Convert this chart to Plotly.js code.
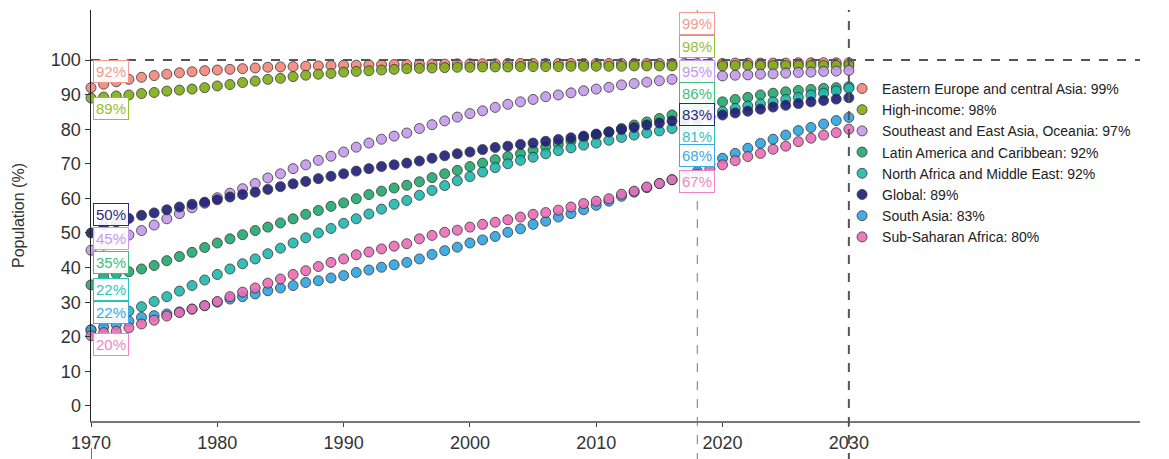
<!DOCTYPE html>
<html>
<head>
<meta charset="utf-8">
<script src="https://cdn.plot.ly/plotly-3.0.1.min.js"></script>
<style>html,body{margin:0;padding:0;background:#fff;}#chart{width:1169px;height:459px;}</style>
</head>
<body>
<div id="chart"></div>
<script>
// Years 1970..2030
const years = [];
for (let y = 1970; y <= 2030; y++) years.push(y);

const seriesNames = [
  "Eastern Europe and central Asia",
  "High-income",
  "Southeast and East Asia, Oceania",
  "Latin America and Caribbean",
  "North Africa and Middle East",
  "Global",
  "South Asia",
  "Sub-Saharan Africa"
];

const eeca = [92,93,93.7,94.4,95.0,95.5,95.9,96.3,96.6,96.9,97.1,97.3,97.5,97.7,97.9,98.0,98.1,98.2,98.3,98.4,98.5,98.5,98.6,98.6,98.7,98.7,98.8,98.8,98.8,98.9,98.9,98.9,98.9,99.0,99.0,99.0,99.0,99.0,99.0,99.0,99.0,99.0,99.0,99.0,99.0,99.0,99.0,99.0,99.0,99.0,99.0,99.1,99.1,99.1,99.1,99.1,99.2,99.2,99.2,99.2,99.2];
const highIncome = [89,89.3,89.6,89.9,90.3,90.6,91.0,91.3,91.6,92.0,92.5,92.9,93.5,93.9,94.4,94.7,95.2,95.6,95.9,96.1,96.5,96.7,96.9,97.1,97.3,97.5,97.6,97.7,97.8,97.9,97.9,98.0,98.0,98.0,98.1,98.1,98.1,98.1,98.2,98.2,98.2,98.2,98.2,98.3,98.3,98.3,98.3,98.3,98.3,98.3,98.3,98.4,98.4,98.4,98.4,98.4,98.4,98.4,98.4,98.4,98.4];
const seAsia = [45,46.5,48,49.4,50.7,52.3,54.1,55.6,57.3,58.6,60.2,61.5,62.8,64.3,65.9,67.1,68.6,69.7,71.0,72.2,73.4,74.8,76.0,77.1,78.0,78.9,80.2,81.3,82.4,83.5,84.5,85.3,86.3,87.2,87.9,88.6,89.4,89.9,90.5,91.1,91.6,92.1,92.8,93.2,93.6,94.0,94.4,94.7,95.0,95.2,95.4,95.6,95.7,95.9,96.0,96.2,96.4,96.5,96.7,96.8,97.0];
const latAm = [35,37.4,38.2,38.8,39.6,40.6,42.0,43.2,44.4,45.8,47.1,48.3,49.5,50.7,51.7,52.9,54.1,55.4,56.5,57.7,58.7,59.9,61.1,62.1,63.0,63.8,64.8,66.0,67.1,68.1,69.2,70.2,71.2,72.1,72.9,73.9,74.9,75.7,76.6,77.6,78.3,79.2,80.2,81.2,82.1,83.1,84.1,85.0,85.9,87.2,87.9,88.6,89.2,89.9,90.4,90.8,91.2,91.5,91.8,92.0,92.3];
const naMe = [22,24.6,26.0,27.4,28.7,30.2,31.6,33.2,34.8,36.4,38.0,39.6,41.1,42.5,44.0,45.6,47.1,48.6,50.0,51.3,52.8,54.1,55.5,56.9,58.3,59.4,60.9,62.3,63.7,65.1,66.3,67.6,68.9,70.0,71.0,71.9,72.9,73.8,74.6,75.4,76.0,76.8,77.6,78.3,78.9,79.5,80.2,80.6,81.0,83.5,85.1,86.0,86.7,87.3,87.9,88.6,89.2,89.9,90.4,91.1,91.8];
const globalCov = [50,52.3,53.2,54.2,55.1,55.8,56.7,57.5,58.3,58.9,59.6,60.4,61.1,61.8,62.6,63.4,64.2,64.9,65.7,66.4,67.1,67.9,68.6,69.2,69.7,70.2,70.8,71.6,72.3,72.9,73.4,74.1,74.7,75.1,75.6,76.0,76.5,77.0,77.5,78.0,78.6,79.2,79.9,80.5,81.2,81.8,82.4,82.8,83.2,83.6,84.1,84.7,85.2,85.8,86.4,86.9,87.4,87.9,88.3,88.7,89.1];
const southAsia = [22,22.8,23.5,24.5,25.6,26.1,26.6,27.2,28.0,29.0,30.0,30.9,31.6,32.4,33.3,34.1,34.8,35.7,36.2,37.0,37.7,38.6,39.3,40.1,40.8,41.5,42.5,43.8,44.9,45.9,47.1,48.0,49.0,50.2,51.2,52.5,53.4,54.6,55.6,56.7,58.0,59.2,60.6,61.8,63.1,64.3,65.4,66.6,67.8,70.0,71.6,73.0,74.5,75.9,77.1,78.3,79.6,80.5,81.5,82.5,83.4];
const ssAfrica = [20.3,21.2,21.6,22.6,23.7,24.8,26.0,27.0,28.0,29.0,30.2,31.6,32.9,34.1,35.5,36.7,38.0,39.1,40.3,41.5,42.5,43.7,44.5,45.4,46.2,46.9,48.3,49.3,50.2,50.8,51.7,52.5,53.1,53.8,54.6,55.4,55.9,56.6,57.5,58.5,59.2,59.9,61.2,62.1,63.3,64.3,65.4,66.2,67.0,68.5,69.7,70.9,72.1,73.0,74.2,75.1,76.4,77.4,78.3,79.0,80.0];

const seriesValues = [eeca, highIncome, seAsia, latAm, naMe, globalCov, southAsia, ssAfrica];

const xTicks = [1970, 1980, 1990, 2000, 2010, 2020, 2030];
const yTicks = [0, 10, 20, 30, 40, 50, 60, 70, 80, 90, 100];
const labelYears = [1970, 2018];
const projectionEnd = 2030;

// ---- styling (not data) ----
const markerColors = ["#F3877C","#80AE17","#C59AEC","#22A86E","#1FB8AE","#1E1E7A","#2FA4E0","#EA6DB8"];
const labelColors  = ["#F29A92","#95C034","#C39AF0","#3DBE7E","#2EC4BE","#2B2B86","#3AABE6","#EE86C6"];
const offset1970 = [4.6, -3, 3.5, 6.4, 11.8, 5.3, 5, -2.5];
const offset2018 = [11.6, 5.5, 1.7, 4.3, -3.2, 1.1, 4.6, -2.2];

const FONT = "Liberation Sans, Arial, Helvetica, sans-serif";

const traces = seriesNames.map((name, i) => {
  const v = seriesValues[i];
  return {
    type: "scatter",
    mode: "markers",
    x: years,
    y: v,
    name: name + ": " + Math.round(v[years.indexOf(projectionEnd)]) + "%",
    cliponaxis: false,
    marker: {
      size: 10,
      color: markerColors[i],
      opacity: 0.9,
      line: {color: "rgba(45,45,45,0.85)", width: 1}
    },
    hoverinfo: "x+y+name"
  };
});

const annotations = [];
seriesNames.forEach((name, i) => {
  const v = seriesValues[i];
  const offs = [offset1970, offset2018];
  labelYears.forEach((yr, j) => {
    const val = v[years.indexOf(yr)];
    annotations.push({
      x: yr, y: val + offs[j][i],
      xref: "x", yref: "y",
      text: Math.round(val) + "%",
      showarrow: false,
      xanchor: j === 0 ? "left" : "center",
      xshift: j === 0 ? 2 : 0,
      font: {family: FONT, size: 15, color: labelColors[i]},
      bgcolor: "rgba(255,255,255,0.92)",
      bordercolor: labelColors[i],
      borderwidth: 1,
      borderpad: 2
    });
  });
});

const shapes = [
  {type: "line", xref: "paper", yref: "y", x0: 0, x1: 1, y0: 100, y1: 100,
   line: {color: "#555", width: 1.8, dash: "dash"}},
  {type: "line", xref: "x", yref: "paper", x0: 2018, x1: 2018, y0: -0.1, y1: 1.0,
   line: {color: "#777", width: 1, dash: "dash"}},
  {type: "line", xref: "x", yref: "paper", x0: projectionEnd, x1: projectionEnd, y0: -0.1, y1: 1.0,
   line: {color: "#555", width: 2, dash: "dash"}},
  {type: "line", xref: "x", yref: "paper", x0: 1970, x1: 1970, y0: -0.1, y1: -0.065,
   line: {color: "#444", width: 1.5}}
];

const layout = {
  width: 1169, height: 459,
  margin: {l: 91, r: 29, t: 10, b: 38, pad: 0},
  paper_bgcolor: "#fff", plot_bgcolor: "#fff",
  font: {family: FONT, color: "#333"},
  showlegend: true,
  legend: {
    x: 0.716, xanchor: "left", y: 0.847, yanchor: "top",
    bgcolor: "rgba(0,0,0,0)", borderwidth: 0,
    font: {family: FONT, size: 14, color: "#222"},
    tracegroupgap: 0
  },
  xaxis: {
    range: [1970, 2053.05],
    tickvals: xTicks, ticktext: xTicks.map(String),
    ticks: "outside", ticklen: 4, tickcolor: "#444", tickwidth: 1,
    showline: true, linecolor: "#777", linewidth: 2,
    showgrid: false, zeroline: false,
    tickfont: {family: FONT, size: 18, color: "#333"},
    fixedrange: true
  },
  yaxis: {
    range: [-4.34, 114.45],
    tickvals: yTicks, ticktext: yTicks.map(String),
    ticks: "outside", ticklen: 5, tickcolor: "#333", tickwidth: 1,
    showline: true, linecolor: "#222", linewidth: 1.5,
    showgrid: false, zeroline: false,
    tickfont: {family: FONT, size: 18, color: "#333"},
    title: {text: "Population (%)", font: {family: FONT, size: 16, color: "#333"}, standoff: 22},
    fixedrange: true
  },
  annotations: annotations,
  shapes: shapes
};

Plotly.newPlot("chart", traces, layout, {displayModeBar: false, staticPlot: true});
</script>
</body>
</html>
